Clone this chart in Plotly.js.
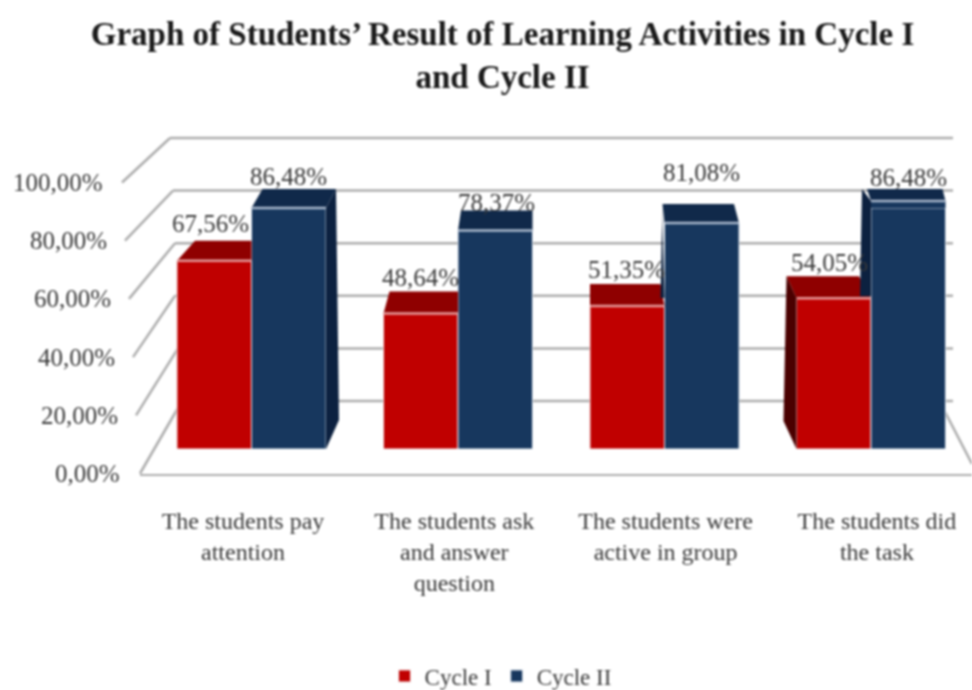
<!DOCTYPE html>
<html>
<head>
<meta charset="utf-8">
<script src="https://cdn.plot.ly/plotly-3.0.1.min.js"></script>
<style>html,body{margin:0;padding:0;background:#fff}#chart{width:972px;height:690px;filter:blur(0.8px)}</style>
</head>
<body>
<div id="chart"></div>
<script>
// ---- data ----
const categories = ['The students pay<br>attention', 'The students ask<br>and answer<br>question', 'The students were<br>active in group', 'The students did<br>the task'];
const cycle1 = [67.56, 48.64, 51.35, 54.05];
const cycle2 = [86.48, 78.37, 81.08, 86.48];
const seriesNames = ['Cycle I', 'Cycle II'];
const valueTicks = [0, 20, 40, 60, 80, 100];
const titleText = 'Graph of Students’ Result of Learning Activities in Cycle I<br>and Cycle II';

// ---- geometry of the pseudo-3D box (pixels) ----
const W = 972, H = 690, MB = 60, PH = H - MB, FONT = '"Liberation Serif", "Times New Roman", serif';
const fmt = v => v.toFixed(2).replace('.', ',') + '%';
const domX = (a, b) => [a / W, b / W];
const domY = (top, bot) => [(PH - bot) / PH, (PH - top) / PH];
const GRID = '#adadad';

// bar plane: 0 at 449px, 2.787px per percent; groups 206.5px apart
const BAR_Y0 = 449, BAR_K = 2.787, GROUP = 206.5, G0 = 251.5, BW = 74.5;
const FRONT_Y0 = 473.5, FRONT_K = 2.91;
const BACK_Y0 = 401, BACK_K = 2.63;
const FRONT_X0 = 243, FRONT_DX = 211.3;

const ux = p => p / GROUP;             // px -> bar axis units
const uy = p => p / BAR_K;             // px -> value units
// per-bar look of the 3D faces: depth px, back-left/right shifts px
const face1 = [[20, 18, 0], [22, 6, 0], [22, 0, -4], [22, -10, -12]];
const face2 = [[19, 11, 10], [20, 3, 0], [19, -2, -5], [12, -4, -3]];
const lift2 = [0, 0, 0, 7];
const RED = '#c00000', RED_TOP = '#8f0000', RED_SIDE = '#4a0000';
const NAVY = '#17375e', NAVY_TOP = '#10294a', NAVY_SIDE = '#0c2140';

const shapes = [];
function poly(pts, fill) {
  const d = 'M' + pts.map(p => p[0] + ',' + p[1]).join('L') + 'Z';
  shapes.push({type: 'path', xref: 'x3', yref: 'y3', path: d, fillcolor: fill, line: {width: 0}, layer: 'above'});
}
function edge(x0, x1, y, color) {
  shapes.push({type: 'line', xref: 'x3', yref: 'y3', x0, x1, y0: y, y1: y, line: {color, width: 2.5}, layer: 'above'});
}
function wall(x0, y0, x1, y1) {
  shapes.push({type: 'line', xref: 'paper', yref: 'paper', x0: x0 / W, x1: x1 / W, y0: (PH - y0) / PH, y1: (PH - y1) / PH,
    line: {color: GRID, width: 2.5}, layer: 'below'});
}
// slanted side-wall lines, front tick to back wall, then the back-wall gridline
const wallFrontX = [140, 136, 133, 129, 125, 122];
const wallBackX  = [182, 178, 175, 175, 173, 170];
valueTicks.forEach((t, i) => {
  const backY = BACK_Y0 - BACK_K * t;
  wall(wallFrontX[i], FRONT_Y0 - FRONT_K * t, wallBackX[i], backY);
  wall(wallBackX[i], backY, 953, backY);
});
wall(943, 408, 972, 464);

categories.forEach((c, i) => {
  const xm = i, xl = i - ux(BW), xr = i + ux(BW);
  const v1 = cycle1[i], v2 = cycle2[i];
  const [h1, a1, b1] = face1[i], [h2, a2, b2] = face2[i];
  // Cycle I top
  poly([[xl, v1], [xl + ux(a1), v1 + uy(h1)], [xm + ux(b1), v1 + uy(h1)], [xm, v1]], RED_TOP);
  edge(xl, xm, v1, '#e59a9a');
  // Cycle II top (with perspective lift for the nearest bar)
  const t2 = v2 + uy(lift2[i]);
  if (lift2[i]) poly([[xm, v2], [xm, t2], [xr, t2], [xr, v2]], NAVY);
  poly([[xm, t2], [xm + ux(a2), t2 + uy(h2)], [xr + ux(b2), t2 + uy(h2)], [xr, t2]], NAVY_TOP);
  edge(xm, xr, t2, '#a9b8cc');
});
// side faces
poly([[0 + ux(BW), cycle2[0]], [0 + ux(BW + 10), cycle2[0] + uy(19)], [0 + ux(BW + 13), uy(29)], [0 + ux(BW), 0]], NAVY_SIDE);
poly([[2 - ux(2), cycle2[2]], [2 - ux(2), cycle2[2] + uy(19)], [2 - ux(4), cycle1[2] + uy(8)], [2, cycle1[2] + uy(8)]], NAVY_SIDE);
poly([[3 - ux(BW), cycle1[3]], [3 - ux(BW + 10), cycle1[3] + uy(22)], [3 - ux(BW + 13), uy(28)], [3 - ux(BW), 0]], RED_SIDE);
poly([[3, cycle2[3] + uy(7)], [3 - ux(9), cycle2[3] + uy(19)], [3 - ux(11), cycle1[3] + uy(2)], [3, cycle1[3] + uy(2)]], NAVY_SIDE);

// value labels on the bars
const labelShift1 = [[-4, 37], [0, 36], [-1, 36], [-4, 36]];
const labelShift2 = [[0, 31], [1, 28], [0, 51], [0, 30]];
const textFont = {family: FONT, size: 25, color: '#3a3a3a'};
const annotations = [];
categories.forEach((c, i) => {
  annotations.push({xref: 'x3', yref: 'y3', x: i - ux(BW / 2), y: cycle1[i], text: fmt(cycle1[i]), showarrow: false,
    xshift: labelShift1[i][0], yshift: labelShift1[i][1], font: textFont, xanchor: 'center', yanchor: 'middle'});
  annotations.push({xref: 'x3', yref: 'y3', x: i + ux(BW / 2), y: cycle2[i], text: fmt(cycle2[i]), showarrow: false,
    xshift: labelShift2[i][0], yshift: labelShift2[i][1], font: textFont, xanchor: 'center', yanchor: 'middle'});
});
// value-axis labels follow the slant of the side wall
const tickRight = [122, 120, 117, 113, 109, 105];
valueTicks.forEach((t, i) => annotations.push({xref: 'paper', yref: 'y2', x: tickRight[i] / W, y: t, text: fmt(t), showarrow: false,
  xanchor: 'right', yanchor: 'middle', font: textFont, xshift: 0, yshift: 0}));

const traces = [
  {type: 'bar', name: seriesNames[0], x: categories, y: cycle1, xaxis: 'x3', yaxis: 'y3', marker: {color: RED, line: {color: '#f3e3e3', width: 1}}, hoverinfo: 'skip'},
  {type: 'bar', name: seriesNames[1], x: categories, y: cycle2, xaxis: 'x3', yaxis: 'y3', marker: {color: NAVY, line: {color: '#dfe6ee', width: 1}}, hoverinfo: 'skip'}
];

const hidden = {showgrid: false, zeroline: false, showticklabels: false, showline: false, ticks: ''};
const layout = {
  width: W, height: H, autosize: false,
  margin: {l: 0, r: 0, t: 0, b: MB},
  paper_bgcolor: '#fff', plot_bgcolor: 'rgba(0,0,0,0)',
  font: {family: FONT, color: '#3a3a3a'},
  title: {text: titleText, x: 0.517, xanchor: 'center', xref: 'paper', y: 0.935, yanchor: 'top', font: {family: FONT, size: 33, color: '#1a1a1a', weight: 'bold'}},
  barmode: 'group', bargap: 0.278, bargroupgap: 0,
  showlegend: true,
  legend: {orientation: 'h', x: 0.515, xanchor: 'center', y: 0.0203, yanchor: 'middle', yref: 'container', font: {family: FONT, size: 23, color: '#3a3a3a'}, itemclick: false, itemdoubleclick: false},
  // front floor edge with the category labels
  xaxis2: {domain: domX(140, W), range: [(140 - FRONT_X0) / FRONT_DX, (W - FRONT_X0) / FRONT_DX], anchor: 'y2',
    tickmode: 'array', tickvals: categories.map((c, i) => i), ticktext: categories,
    showline: true, linecolor: GRID, linewidth: 2.5, showgrid: false, zeroline: false, ticks: '', ticklabelstandoff: 24,
    tickfont: {family: FONT, size: 24, color: '#3a3a3a'}, tickangle: 0},
  yaxis2: Object.assign({}, hidden, {domain: domY(120, FRONT_Y0), range: [0, (FRONT_Y0 - 120) / FRONT_K], anchor: 'x2'}),
  // bar plane
  xaxis3: Object.assign({}, hidden, {domain: [0, 1], type: 'category', categoryorder: 'array', categoryarray: categories,
    range: [-G0 / GROUP, (W - G0) / GROUP], anchor: 'y3'}),
  yaxis3: Object.assign({}, hidden, {domain: domY(120, BAR_Y0), range: [0, (BAR_Y0 - 120) / BAR_K], anchor: 'x3'}),
  shapes, annotations
};
Plotly.newPlot('chart', traces, layout, {displayModeBar: false, staticPlot: true});
</script>
</body>
</html>
